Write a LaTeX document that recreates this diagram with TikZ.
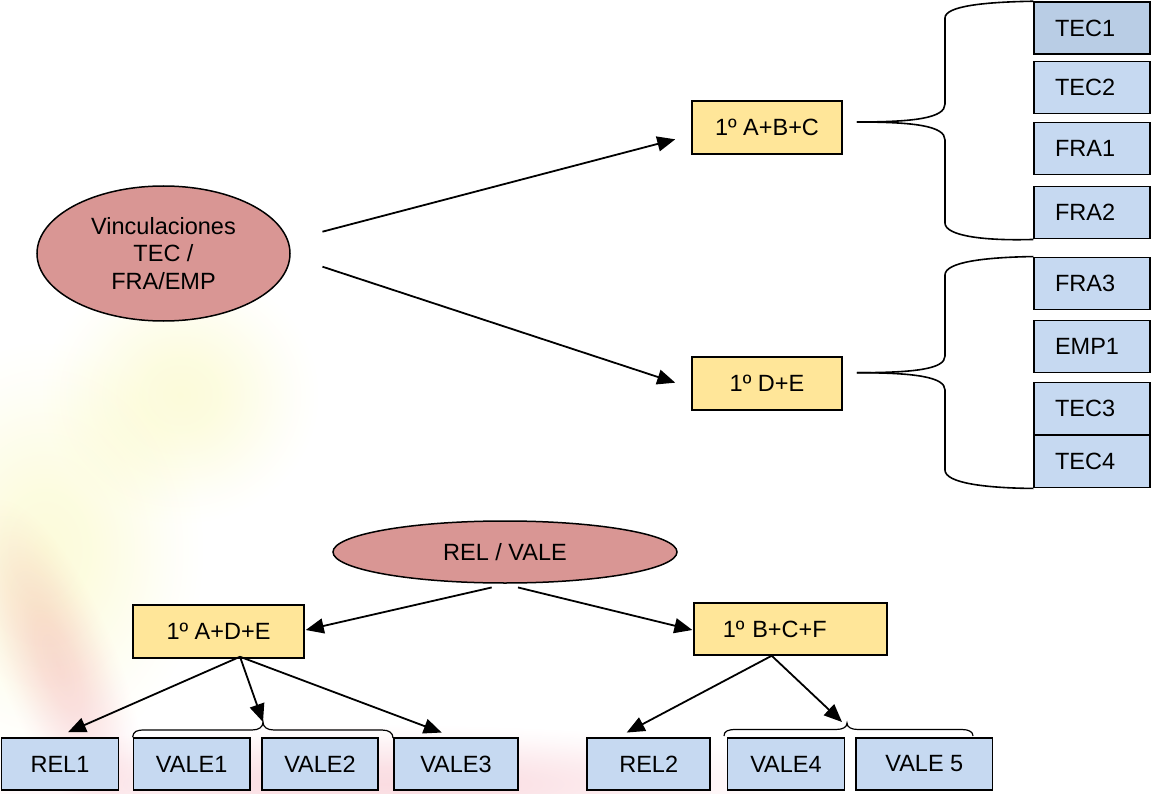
\documentclass[tikz,border=0pt]{standalone}
\usepackage{fontspec}
\setmainfont{Liberation Sans}
\usetikzlibrary{arrows.meta,shapes.geometric,calc}
\definecolor{ellfill}{HTML}{D99694}
\definecolor{yfill}{HTML}{FFE699}
\definecolor{bfill}{HTML}{C6D9F1}
\definecolor{bdark}{HTML}{B9CDE5}
\definecolor{wmy}{HTML}{FCFBDA}
\definecolor{wmp}{HTML}{FADCE1}
\pgfdeclareradialshading{wmY}{\pgfpoint{0bp}{0bp}}{color(0bp)=(wmy); color(7bp)=(wmy!85!white); color(14bp)=(wmy!50!white); color(20bp)=(wmy!18!white); color(25bp)=(white); color(50bp)=(white)}
\pgfdeclareradialshading{wmP}{\pgfpoint{0bp}{0bp}}{color(0bp)=(wmp); color(7bp)=(wmp!85!white); color(14bp)=(wmp!50!white); color(20bp)=(wmp!18!white); color(25bp)=(white); color(50bp)=(white)}
\tikzset{
  every node/.style={font=\fontsize{23.5}{27.5}\selectfont, text=black},
  ell/.style={ellipse, draw, fill=ellfill, line width=1.5pt, inner sep=0pt, align=center},
  ybox/.style={rectangle, draw, fill=yfill, line width=1.5pt, inner sep=0pt, minimum height=53pt},
  rbox/.style={rectangle, draw, fill=bfill, line width=1.5pt, inner ysep=0pt, inner xsep=21pt,
               text width=74pt, align=left, minimum height=52pt},
  bbox/.style={rectangle, draw, fill=bfill, line width=1.5pt, inner sep=0pt, minimum height=52pt},
  arr/.style={line width=1.8pt, -{Triangle[length=18pt,width=15pt]}},
  brace/.style={line width=1.6pt},
  sbrace/.style={line width=1.2pt},
  wmy/.style={shading=wmY, blend mode=multiply},
  wmp/.style={shading=wmP, blend mode=multiply},
}
\begin{document}
\begin{tikzpicture}[x=1pt,y=-1pt]
\useasboundingbox (0,0) rectangle (1151,794);
\fill[white] (0,0) rectangle (1151,794);
% faint watermark
\shade[wmy] (180,395) ellipse (140 and 130);
\shade[wmy] (45,550) ellipse (160 and 210);
\shade[wmp, transform canvas={rotate around={22:(58,665)}}] (58,665) ellipse (60 and 180);
\shade[wmp] (380,784) ellipse (460 and 60);

% top part
\node[ell, minimum width=253pt, minimum height=135pt] (v) at (163.5,253.5) {Vinculaciones\\TEC /\\FRA/EMP};
\node[ybox, minimum width=150pt] (abc) at (767,127.5) {1º A+B+C};
\node[ybox, minimum width=150pt] (de) at (767,383.5) {1º D+E};

\node[rbox, fill=bdark] (tec1) at (1092,28) {TEC1};
\node[rbox] (tec2) at (1092,87.5) {TEC2};
\node[rbox] (fra1) at (1092,148.7) {FRA1};
\node[rbox] (fra2) at (1092,212.7) {FRA2};
\node[rbox] (fra3) at (1092,283.3) {FRA3};
\node[rbox] (emp1) at (1092,346.7) {EMP1};
\node[rbox] (tec3) at (1092,408.3) {TEC3};
\node[rbox] (tec4) at (1092,461.7) {TEC4};

\coordinate (a1s) at ([shift={(31.7,-21.8)}]v.east);
\coordinate (a1e) at ([shift={(-16,11.8)}]abc.west);
\coordinate (a2s) at ([shift={(31.7,13.2)}]v.east);
\coordinate (a2e) at ([shift={(-16,-0.8)}]de.west);
\draw[arr] (a1s) -- (a1e);
\draw[arr] (a2s) -- (a2e);

% right braces
\coordinate (b1) at ([shift={(14,-5.5)}]abc.east);
\draw[brace] (b1) .. controls (915,122) and (945,118) .. (945,104) -- (945,18)
   .. controls (945,6) and (985,2) .. (tec1.north west);
\draw[brace] (b1) .. controls (915,122) and (945,126) .. (945,140) -- (945,223)
   .. controls (945,236) and (985,241) .. (fra2.south west);
\coordinate (b2) at ([shift={(14,-10.8)}]de.east);
\draw[brace] (b2) .. controls (915,372.7) and (945,369) .. (945,356) -- (945,275)
   .. controls (945,262) and (985,257.3) .. (fra3.north west);
\draw[brace] (b2) .. controls (915,372.7) and (945,377) .. (945,390) -- (945,470)
   .. controls (945,483) and (985,488) .. (tec4.south west);

% bottom part
\node[ell, minimum width=344pt, minimum height=62pt] (rv) at (505,552) {REL / VALE};
\node[ybox, minimum width=171pt, minimum height=53pt] (ade) at (218.5,631.5) {1º A+D+E};
\node[ybox, minimum width=193pt, minimum height=52pt, inner xsep=29pt, text width=135pt, align=left] (bcf) at (790.3,629) {1º B+C+F};

\node[bbox, minimum width=116.6pt] (rel1) at (60,764) {REL1};
\node[bbox, minimum width=116.7pt] (vale1) at (191.7,764) {VALE1};
\node[bbox, minimum width=116pt] (vale2) at (320,764) {VALE2};
\node[bbox, minimum width=124pt] (vale3) at (456,764) {VALE3};
\node[bbox, minimum width=123pt] (rel2) at (648.7,764) {REL2};
\node[bbox, minimum width=116.6pt] (vale4) at (786,764) {VALE4};
\node[bbox, minimum width=136.7pt] (vale5) at (924.3,764) {VALE 5};

\coordinate (r1s) at ([shift={(-13.3,3.7)}]rv.south);
\coordinate (r2s) at ([shift={(13,3.7)}]rv.south);
\draw[arr] (r1s) -- ([shift={(1,-1.5)}]ade.east);
\draw[arr] (r2s) -- ([shift={(-0.7,1)}]bcf.west);

\coordinate (as) at ([shift={(21.5,-2)}]ade.south);
\coordinate (bt1) at (263,722);
\draw[arr] (as) -- ([shift={(8,-5)}]rel1.north);
\draw[arr] (as) -- (bt1);
\draw[arr] (as) -- ([shift={(-14.3,-4.7)}]vale3.north);

\coordinate (bs) at ([shift={(-18.6,0)}]bcf.south);
\coordinate (bt2) at (842,722);
\draw[arr] (bs) -- ([shift={(-22,-4.7)}]rel2.north);
\draw[arr] (bs) -- (bt2);

% bottom braces
\draw[sbrace] (vale1.north west) .. controls (133.3,731) and (137,730) .. (145,730) -- (252,730)
  .. controls (259,730) and (263,727) .. (263,722) .. controls (263,727) and (267,730) .. (274,730)
  -- (382,730) .. controls (389,730) and (393,733) .. (393,738);
\draw[sbrace] (724,736) .. controls (724,731) and (728,729.5) .. (736,729.5) -- (836,729.5)
  .. controls (843,729.5) and (847,727) .. (847,723) .. controls (847,727) and (851,729.5) .. (858,729.5)
  -- (962,729.5) .. controls (969,729.5) and (973,732) .. (973,736);
\end{tikzpicture}
\end{document}
